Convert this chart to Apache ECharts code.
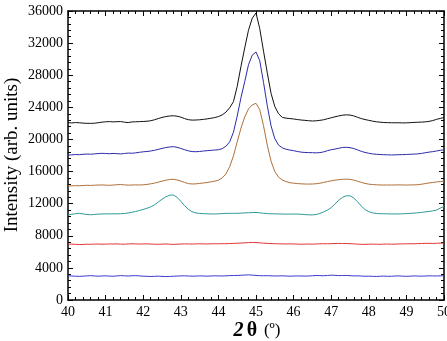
<!DOCTYPE html>
<html>
<head>
<meta charset="utf-8">
<script src="https://cdn.jsdelivr.net/npm/echarts@6/dist/echarts.min.js"></script>
<style>html,body{margin:0;padding:0;background:#fff}#c{width:447px;height:341px}</style>
</head>
<body>
<div id="c"></div>
<script>
var twoTheta = [40.0,40.1,40.2,40.3,40.4,40.5,40.6,40.7,40.8,40.9,41.0,41.1,41.2,41.3,41.4,41.5,41.6,41.7,41.8,41.9,
42.0,42.1,42.2,42.3,42.4,42.5,42.6,42.7,42.8,42.9,43.0,43.1,43.2,43.3,43.4,43.5,43.6,43.7,43.8,43.9,
44.0,44.1,44.2,44.3,44.4,44.5,44.6,44.7,44.8,44.9,45.0,45.1,45.2,45.3,45.4,45.5,45.6,45.7,45.8,45.9,
46.0,46.1,46.2,46.3,46.4,46.5,46.6,46.7,46.8,46.9,47.0,47.1,47.2,47.3,47.4,47.5,47.6,47.7,47.8,47.9,
48.0,48.1,48.2,48.3,48.4,48.5,48.6,48.7,48.8,48.9,49.0,49.1,49.2,49.3,49.4,49.5,49.6,49.7,49.8,49.9,50.0];

var blackCurve = [22090,22060,22100,22080,22030,22010,22000,22020,22080,22150,22200,22220,22190,22210,22230,22150,22100,22180,22200,22220,
22240,22270,22330,22450,22600,22740,22850,22920,22950,22900,22780,22600,22460,22410,22420,22450,22500,22560,22640,22720,
22850,23050,23400,23950,24700,26600,29100,31400,33600,35100,35750,33800,31000,28300,25750,24100,23200,22750,22650,22600,
22550,22480,22420,22380,22330,22300,22320,22380,22450,22580,22700,22820,22930,23020,23060,23040,22930,22760,22600,22480,
22380,22280,22200,22150,22110,22090,22080,22070,22080,22060,22070,22090,22120,22140,22160,22190,22250,22350,22500,22620,22720];

var navyCurve = [18060,18080,18120,18100,18150,18180,18160,18200,18240,18270,18250,18220,18260,18230,18200,18250,18300,18280,18330,18400,
18460,18500,18560,18650,18760,18880,18990,19060,19100,19020,18880,18720,18580,18490,18470,18500,18560,18600,18640,18680,
18720,18850,19150,19700,20900,22900,25200,27200,29300,30500,30900,29800,27100,24200,21700,20100,19300,18950,18780,18680,
18600,18500,18420,18380,18360,18350,18330,18360,18450,18600,18720,18800,18900,19000,19020,18980,18870,18700,18520,18380,
18280,18200,18150,18120,18100,18080,18070,18080,18100,18110,18130,18150,18170,18200,18260,18340,18420,18480,18560,18650,18700];

var brownCurve = [14200,14220,14250,14230,14260,14290,14270,14300,14320,14330,14310,14290,14320,14360,14380,14340,14310,14320,14340,14330,
14350,14400,14470,14560,14680,14800,14920,15010,15030,14960,14820,14650,14500,14450,14470,14520,14580,14640,14720,14800,
14920,15200,15700,16600,17950,19700,21400,22800,23800,24300,24500,23700,21700,19300,17300,16000,15300,14950,14750,14620,
14550,14500,14470,14450,14440,14450,14480,14550,14650,14750,14850,14930,14990,15030,15050,15030,14940,14800,14650,14520,
14430,14380,14350,14330,14320,14330,14320,14330,14340,14330,14320,14330,14340,14360,14420,14500,14580,14640,14700,14760,14800];

var tealCurve = [10600,10680,10750,10800,10720,10650,10620,10650,10700,10720,10730,10720,10740,10730,10750,10780,10840,10930,11030,11150,
11280,11430,11600,11850,12200,12550,12850,13050,13080,12800,12300,11750,11300,11000,10850,10780,10750,10740,10720,10720,
10730,10760,10790,10800,10790,10800,10820,10850,10870,10890,10900,10860,10800,10760,10740,10730,10720,10710,10700,10700,
10710,10700,10680,10640,10610,10600,10650,10780,10980,11200,11500,11950,12420,12780,12980,12980,12700,12250,11700,11260,
11000,10850,10780,10750,10740,10730,10720,10720,10720,10740,10760,10790,10820,10860,10910,10970,11030,11100,11200,11450,11650];

var redCurve = [6950,6960,6930,6900,6920,6950,6940,6960,6970,6950,6960,6980,6970,6990,6960,6950,6980,7000,6990,6970,
6980,6990,6970,6950,6940,6960,6980,6950,6930,6950,6970,6990,6980,6970,6990,7000,6990,6980,7000,7010,
7000,7020,7010,7030,7050,7070,7090,7120,7150,7170,7160,7120,7080,7050,7030,7010,7000,6990,6980,6990,
6980,6960,6950,6960,6970,6960,6980,7000,7010,7000,7020,7040,7050,7040,7030,7020,6990,6960,6940,6930,
6950,6960,6950,6940,6960,6970,6950,6960,6980,6990,7000,7010,7000,7020,7040,7050,7060,7050,7070,7080,7090];

var blueCurve = [3020,2990,2960,2950,2970,3000,3030,3000,2970,2990,3010,2980,2960,3000,3040,3010,2990,3020,3030,3000,
2970,2950,2930,2950,2970,2940,2920,2930,2960,2980,3000,3010,2990,2970,2980,3000,2990,2970,2990,3010,
3000,2990,3010,3040,3050,3060,3080,3110,3130,3100,3060,3030,3020,3030,3010,2990,3000,3010,2990,2970,
2980,3000,2990,2980,2990,3020,3050,3040,3020,3060,3090,3070,3040,3050,3060,3030,3000,3010,2980,2960,
2970,2950,2930,2960,2980,2950,2960,2990,3000,2970,2950,2970,3000,2980,2970,2990,3010,3000,2990,3010,3030];

var seriesColors = ['#111111', '#2b2ba8', '#b0703a', '#2e9a96', '#e03535', '#3a3ad0'];
var curves = [blackCurve, navyCurve, brownCurve, tealCurve, redCurve, blueCurve];

var FONT = '"Liberation Serif", "DejaVu Serif", serif';

function pairs(ys) {
  return twoTheta.map(function (x, i) { return [x, ys[i]]; });
}

var series = curves.map(function (ys, k) {
  return {
    type: 'line',
    data: pairs(ys),
    xAxisIndex: 0,
    yAxisIndex: 0,
    showSymbol: false,
    symbol: 'none',
    smooth: false,
    lineStyle: { color: seriesColors[k], width: 1 },
    itemStyle: { color: seriesColors[k] },
    z: 3
  };
});

function xAx(pos, showLabel) {
  return {
    type: 'value', position: pos, min: 40, max: 50, interval: 1,
    axisLine: { show: true, onZero: false, lineStyle: { color: '#000', width: 1.5 } },
    axisTick: { show: true, inside: true, length: 5, lineStyle: { color: '#000', width: 1 } },
    minorTick: { show: true, splitNumber: 5, length: 3, lineStyle: { color: '#000', width: 1 } },
    splitLine: { show: false },
    axisLabel: { show: showLabel, color: '#000', fontFamily: FONT, fontSize: 14, margin: 5,
      formatter: function (v) { return String(v); } }
  };
}
function yAx(pos, showLabel) {
  return {
    type: 'value', position: pos, min: 0, max: 36000, interval: 4000,
    axisLine: { show: true, onZero: false, lineStyle: { color: '#000', width: 1.5 } },
    axisTick: { show: true, inside: true, length: 5, lineStyle: { color: '#000', width: 1 } },
    minorTick: { show: true, splitNumber: 5, length: 3, lineStyle: { color: '#000', width: 1 } },
    splitLine: { show: false },
    axisLabel: { show: showLabel, color: '#000', fontFamily: FONT, fontSize: 14, margin: 5,
      formatter: function (v) { return String(v); } }
  };
}

var chart = echarts.init(document.getElementById('c'), null, { renderer: 'canvas' });
chart.setOption({
  animation: false,
  backgroundColor: '#fff',
  grid: { left: 68, right: 3, top: 11, bottom: 41, containLabel: false, outerBoundsMode: 'none' },
  xAxis: [xAx('bottom', true), xAx('top', false)],
  yAxis: [yAx('left', true), yAx('right', false)],
  series: series,
  graphic: [
    {
      type: 'text',
      x: 12, y: 155,
      rotation: Math.PI / 2,
      style: { text: 'Intensity (arb. units)', font: '19px ' + FONT, fill: '#000', align: 'center', verticalAlign: 'middle', textAlign: 'center', textVerticalAlign: 'middle' }
    },
    {
      type: 'text',
      x: 257, y: 331,
      style: {
        text: '{a|2} {b|θ}  {c|(º)}',
        rich: {
          a: { font: 'italic bold 20px ' + FONT, fill: '#000' },
          b: { font: 'bold 20px ' + FONT, fill: '#000' },
          c: { font: '17px ' + FONT, fill: '#000' }
        },
        align: 'center', verticalAlign: 'middle',
        textAlign: 'center', textVerticalAlign: 'middle'
      }
    }
  ]
});
</script>
</body>
</html>
